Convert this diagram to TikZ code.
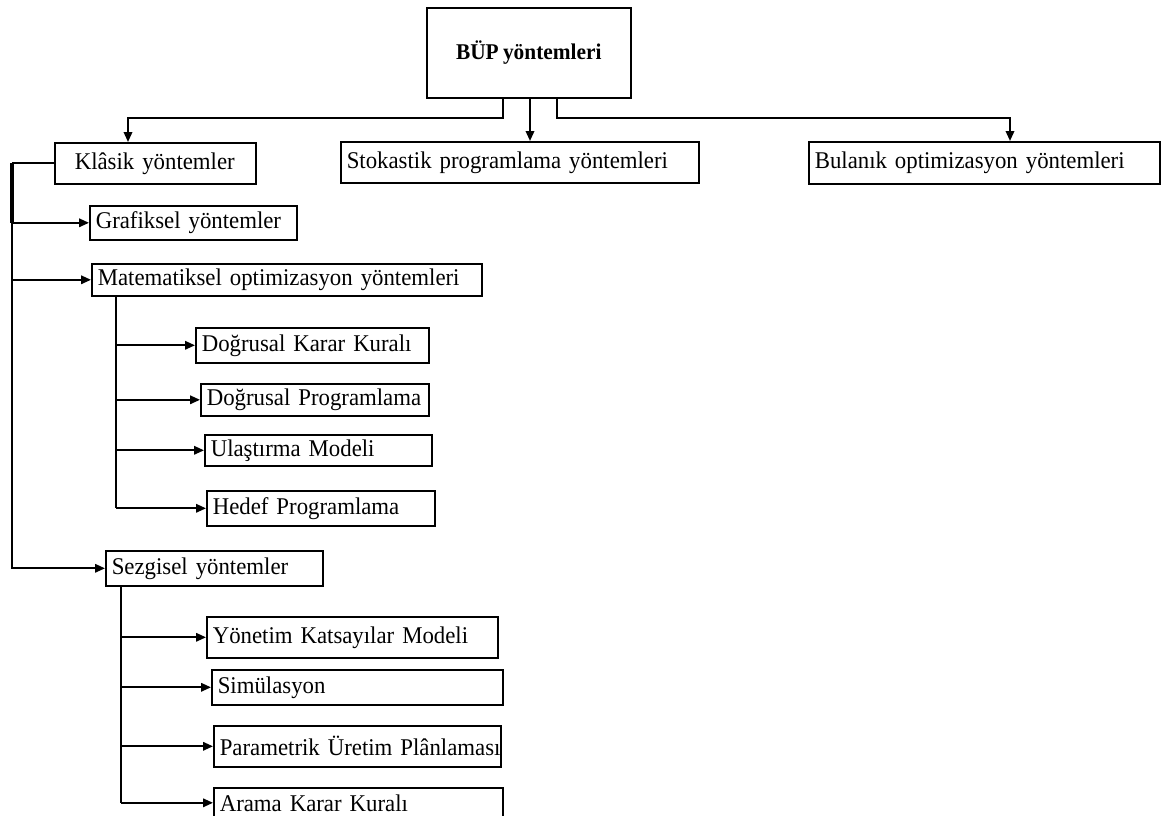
\documentclass[tikz,border=0pt]{standalone}
\usepackage{fontspec}
\setmainfont[FakeStretch=0.95,WordSpace=0.8]{Liberation Serif}
\usetikzlibrary{arrows.meta}
\begin{document}
\begin{tikzpicture}[x=1pt,y=-1pt,
  box/.style={draw, line width=1.6pt, anchor=north west, inner ysep=0pt,
    inner xsep=6pt, align=left, font=\fontsize{24}{28}\selectfont},
  headbox/.style={draw, line width=1.6pt, anchor=north west, inner sep=0pt,
    font=\fontsize{22.5}{26}\selectfont\bfseries},
  link/.style={line width=1.9pt},
  arr/.style={link, -{Triangle[length=10pt,width=8.5pt]}},
  spine/.style={line width=2.4pt},
]
\clip (0,0) rectangle (1164,816);

% top level
\node[headbox, minimum width=204pt, minimum height=90pt] (bup) at (426,7) {BÜP yöntemleri};
\node[box, minimum height=41pt, text width=189pt] (klasik) at (54,142) {\mbox{\hspace*{14pt}Klâsik yöntemler}};
\node[box, minimum height=41pt, text width=346pt] (stok) at (340,141) {\mbox{Stokastik programlama yöntemleri}};
\node[box, minimum height=42pt, text width=339pt] (bul) at (808,141) {\mbox{Bulanık optimizasyon yöntemleri}};

% classical methods
\node[box, minimum height=34pt, text width=195pt] (graf) at (89,205) {\mbox{Grafiksel yöntemler}};
\node[box, minimum height=32pt, text width=378pt] (mat) at (91,263) {\mbox{Matematiksel optimizasyon yöntemleri}};
\node[box, minimum height=35pt, text width=221pt] (dkk) at (195,327) {\mbox{Doğrusal Karar Kuralı}};
\node[box, minimum height=32pt, text width=216pt] (dp) at (200,383) {\mbox{Doğrusal Programlama}};
\node[box, minimum height=31pt, text width=215pt] (ul) at (204,434) {\mbox{Ulaştırma Modeli}};
\node[box, minimum height=35pt, text width=216pt] (hed) at (206,490) {\mbox{Hedef Programlama}};
\node[box, minimum height=35pt, text width=205pt] (sez) at (105,550) {\mbox{Sezgisel yöntemler}};

% heuristic methods
\node[box, minimum height=41pt, text width=279pt] (yon) at (206,616) {\mbox{Yönetim Katsayılar Modeli}};
\node[box, minimum height=35pt, text width=279pt] (sim) at (211,669) {\mbox{Simülasyon}};
\node[box, minimum height=41pt, text width=275pt] (par) at (213,725) {\mbox{Parametrik Üretim Plânlaması}};
\node[box, minimum height=30pt, text width=277pt] (ara) at (213,787) {\mbox{Arama Karar Kuralı}};

% branch coordinates
\coordinate (t1) at (503,118);
\coordinate (t2) at (530,0);
\coordinate (t3) at (557,118);
\coordinate (kx) at (128,0);
\coordinate (bx) at (1010,0);
\coordinate (sx) at (12,0);
\coordinate (mx) at (116,0);
\coordinate (zx) at (121,0);

% from the root
\draw[arr] (t1 |- bup.south) -- (t1) -| (kx |- klasik.north);
\draw[arr] (t2 |- bup.south) -- (t2 |- stok.north);
\draw[arr] (t3 |- bup.south) -- (t3) -| (bx |- bul.north);

% left spine
\draw[link] (klasik.west) -- (klasik.west -| sx);
\draw[line width=3.4pt] (klasik.west -| sx) -- (sx |- graf.west);
\draw[arr] (sx |- graf.west) -- (graf.west);
\draw[arr] (sx |- graf.west) -- (sx |- sez.west) -- (sez.west);
\draw[arr] (sx |- mat.west) -- (mat.west);

% mathematical optimisation branch
\draw[spine] (mx |- mat.south) -- (mx |- hed.west);
\draw[arr] (mx |- hed.west) -- (hed.west);
\foreach \n in {dkk,dp,ul} \draw[arr] (mx |- \n.west) -- (\n.west);

% heuristic branch
\draw[spine] (zx |- sez.south) -- (zx |- ara.west);
\draw[arr] (zx |- ara.west) -- (ara.west);
\foreach \n in {yon,sim,par} \draw[arr] (zx |- \n.west) -- (\n.west);
\end{tikzpicture}
\end{document}
